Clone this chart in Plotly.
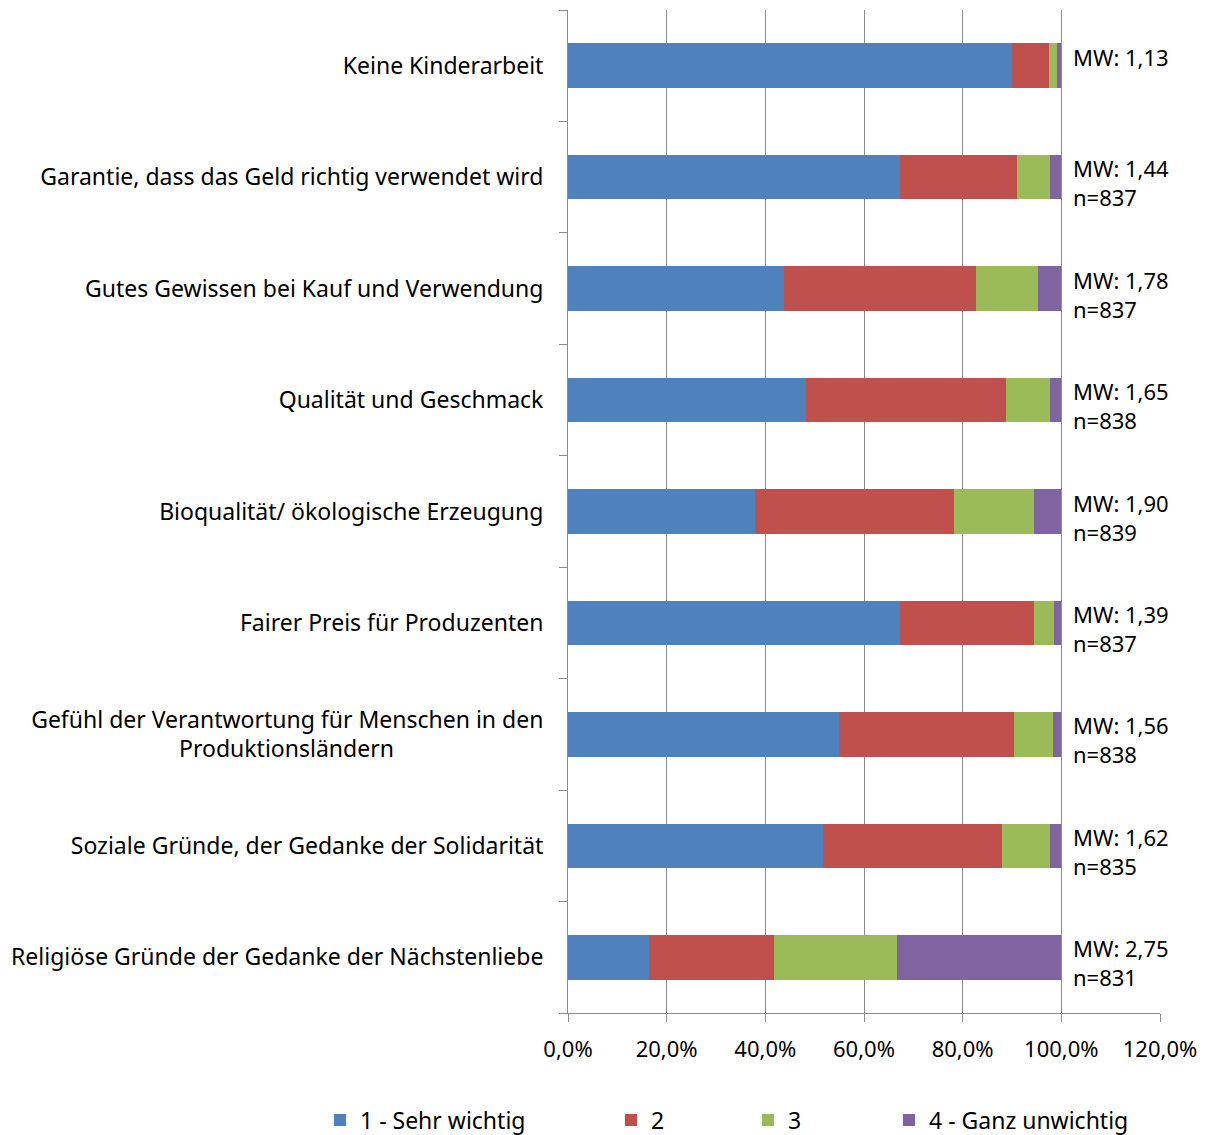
import plotly.graph_objects as go

# Motive ranked by importance (share of answers per rating, in %)
categories = [
    "Keine Kinderarbeit",
    "Garantie, dass das Geld richtig verwendet wird",
    "Gutes Gewissen bei Kauf und Verwendung",
    "Qualität und Geschmack",
    "Bioqualität/ ökologische Erzeugung",
    "Fairer Preis für Produzenten",
    "Gefühl der Verantwortung für Menschen in den Produktionsländern",
    "Soziale Gründe, der Gedanke der Solidarität",
    "Religiöse Gründe der Gedanke der Nächstenliebe",
]
tick_labels = [
    "Keine Kinderarbeit",
    "Garantie, dass das Geld richtig verwendet wird",
    "Gutes Gewissen bei Kauf und Verwendung",
    "Qualität und Geschmack",
    "Bioqualität/ ökologische Erzeugung",
    "Fairer Preis für Produzenten",
    "Gefühl der Verantwortung für Menschen in den<br>Produktionsländern" + "\u00a0" * 25,
    "Soziale Gründe, der Gedanke der Solidarität",
    "Religiöse Gründe der Gedanke der Nächstenliebe",
]

series_names = ["1 - Sehr wichtig", "2", "3", "4 - Ganz unwichtig"]
sehr_wichtig = [90.0, 67.3, 43.7, 48.2, 37.9, 67.3, 55.0, 51.7, 16.4]
wert_2 = [7.5, 23.7, 39.1, 40.6, 40.3, 27.2, 35.4, 36.3, 25.3]
wert_3 = [1.6, 6.7, 12.5, 8.9, 16.2, 4.1, 7.9, 9.8, 25.0]
ganz_unwichtig = [0.9, 2.3, 4.7, 2.3, 5.6, 1.4, 1.7, 2.2, 33.3]

mittelwerte = ["1,13", "1,44", "1,78", "1,65", "1,90", "1,39", "1,56", "1,62", "2,75"]
fallzahlen = [None, 837, 837, 838, 839, 837, 838, 835, 831]

colors = ["#4F81BD", "#C0504D", "#9BBB59", "#8064A2"]
FONT = "Noto Sans"
GRID = "#8C8C8C"

fig = go.Figure()
values = [sehr_wichtig, wert_2, wert_3, ganz_unwichtig]
legend_ids = ["legend", "legend2", "legend3", "legend4"]
for name, vals, col, lg in zip(series_names, values, colors, legend_ids):
    fig.add_trace(go.Bar(
        y=categories,
        x=[v / 100 for v in vals],
        name=name,
        orientation="h",
        marker=dict(color=col, line=dict(width=0)),
        legend=lg,
        hoverinfo="skip",
    ))

# mean value / sample size next to each bar
for cat, mw, n in zip(categories, mittelwerte, fallzahlen):
    txt = f"MW: {mw}" if n is None else f"MW: {mw}<br>n={n}"
    fig.add_annotation(
        x=1.0, y=cat, xref="x", yref="y",
        text=txt, showarrow=False,
        xanchor="left", yanchor="top", align="left",
        xshift=10, yshift=26,
        font=dict(family=FONT, size=22, color="#000000"),
    )

# plot area in pixels: left 568, right 1160, top 10, bottom 1013
L, R, T, B = 568, 1160, 10, 1013
W, H = 1210, 1135
pw = R - L
ph = B - T


def px_x(px):
    return (px - L) / pw


legend_y = (B - 1120) / ph
legend_left = [334, 625, 762, 903]
legend_cfg = {}
for lg, left in zip(legend_ids, legend_left):
    legend_cfg[lg] = dict(
        x=px_x(left - 14), y=legend_y, xanchor="left", yanchor="middle",
        orientation="h", bgcolor="rgba(0,0,0,0)", itemwidth=30,
        font=dict(family=FONT, size=23, color="#000000"),
        itemclick=False, itemdoubleclick=False,
    )

fig.update_layout(
    width=W, height=H,
    margin=dict(l=L, r=W - R, t=T, b=H - B, autoexpand=False),
    barmode="stack",
    bargap=0.6,
    separators=",.",
    paper_bgcolor="white",
    plot_bgcolor="white",
    font=dict(family=FONT, size=23, color="#000000"),
    showlegend=True,
    **legend_cfg,
)

fig.update_xaxes(
    range=[0, 1.2],
    tickvals=[0, 0.2, 0.4, 0.6, 0.8, 1.0, 1.2],
    tickformat=".1%",
    showgrid=True, gridcolor=GRID, gridwidth=1,
    showline=True, linecolor=GRID, linewidth=1,
    ticks="outside", ticklen=8, tickcolor=GRID,
    ticklabelstandoff=9,
    tickfont=dict(family=FONT, size=22, color="#000000"),
    zeroline=False,
    fixedrange=True,
)
fig.update_yaxes(
    type="category",
    autorange="reversed",
    tickmode="array",
    tickvals=categories,
    ticktext=tick_labels,
    tickson="boundaries",
    ticks="outside", ticklen=8, tickcolor=GRID,
    showline=True, linecolor=GRID, linewidth=1,
    showgrid=False,
    ticklabelstandoff=19,
    tickfont=dict(family=FONT, size=23, color="#000000"),
    fixedrange=True,
)

fig.write_html("out.html")
